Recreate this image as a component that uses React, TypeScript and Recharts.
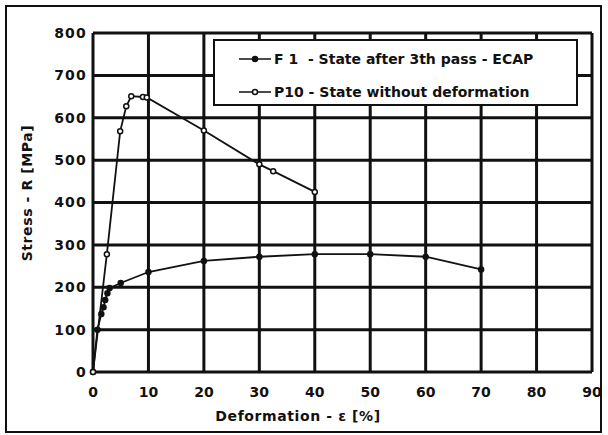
import { Label, Line, LineChart, ReferenceLine, XAxis, YAxis } from "recharts";

// strain [%] and stress [MPa]
const f1Strain = [0, 0.8, 1.5, 1.9, 2.2, 2.6, 3, 5, 10, 20, 30, 40, 50, 60, 70];
const f1Stress = [0, 100, 137, 153, 170, 186, 198, 210, 236, 262, 272, 278, 278, 272, 242];
const p10Strain = [0, 2.5, 4.9, 6, 6.9, 9, 9.7, 20, 30, 32.5, 40];
const p10Stress = [0, 278, 568, 627, 651, 649, 648, 570, 490, 474, 425];
const xTicks = [0, 10, 20, 30, 40, 50, 60, 70, 80, 90];
const yTicks = [0, 100, 200, 300, 400, 500, 600, 700, 800];

const f1Data = f1Strain.map((x, i) => ({ x, y: f1Stress[i] }));
const p10Data = p10Strain.map((x, i) => ({ x, y: p10Stress[i] }));

const font = "'DejaVu Sans', Arial, sans-serif";
const tickStyle = { fill: "#111", fontSize: 13, fontWeight: 700, fontFamily: font };
const titleStyle = { ...tickStyle, fontSize: 14, letterSpacing: 0.6 };

function LegendBox() {
  const rows = [
    { label: "F 1  - State after 3th pass - ECAP", fill: "#111" },
    { label: "P10 - State without deformation", fill: "#fff" },
  ];
  return (
    <div
      style={{
        position: "absolute",
        top: 39,
        left: 213,
        width: 365,
        height: 67,
        border: "2px solid #111",
        background: "#fff",
        boxSizing: "border-box",
        fontFamily: font,
        fontSize: 14,
        fontWeight: 700,
        color: "#111",
        paddingTop: 1,
      }}
    >
      {rows.map((r, i) => (
        <div key={i} style={{ display: "flex", alignItems: "center", height: 33, paddingLeft: 22 }}>
          <svg width={36} height={10}>
            <line x1={2} y1={5} x2={34} y2={5} stroke="#111" strokeWidth={1.5} />
            <circle cx={18} cy={5} r={2.5} fill={r.fill} stroke="#111" strokeWidth={1.5} />
          </svg>
          <span style={{ whiteSpace: "pre", marginLeft: 1 }}>{r.label}</span>
        </div>
      ))}
    </div>
  );
}

export default function App() {
  return (
    <div style={{ position: "absolute", left: 0, top: 0, width: 608, height: 435, background: "#fff" }}>
      <div
        style={{
          position: "absolute",
          left: 5,
          top: 5,
          width: 597,
          height: 428,
          border: "2px solid #111",
          boxSizing: "border-box",
        }}
      />
      <LineChart width={608} height={435} data={f1Data} margin={{ top: 33, right: 16, bottom: 11, left: 5 }}>
        <XAxis
          type="number"
          dataKey="x"
          domain={[0, 90]}
          ticks={xTicks}
          height={52}
          tick={{ ...tickStyle, fontSize: 14 }}
          tickLine={false}
          axisLine={false}
          tickMargin={9}
        >
          <Label
            content={() => (
              <text x={298} y={416} textAnchor="middle" dominantBaseline="central" style={titleStyle}>
                Deformation - ε [%]
              </text>
            )}
          />
        </XAxis>
        <YAxis
          type="number"
          domain={[0, 800]}
          ticks={yTicks}
          width={88}
          tick={{ ...tickStyle, fontSize: 14, letterSpacing: 1.2 }}
          tickLine={false}
          axisLine={false}
          tickMargin={0}
        >
          <Label
            content={() => (
              <text
                x={27}
                y={193}
                transform="rotate(-90 27 193)"
                textAnchor="middle"
                dominantBaseline="central"
                style={titleStyle}
              >
                Stress - R [MPa]
              </text>
            )}
          />
        </YAxis>
        {xTicks.map((t) => (
          <ReferenceLine key={`vx${t}`} x={t} stroke="#111" strokeWidth={3} />
        ))}
        {yTicks.map((t) => (
          <ReferenceLine key={`hy${t}`} y={t} stroke="#111" strokeWidth={3} />
        ))}
        <Line
          data={f1Data}
          dataKey="y"
          type="linear"
          stroke="#111"
          strokeWidth={1.8}
          dot={{ r: 2.5, fill: "#111", stroke: "#111", strokeWidth: 1.5 }}
          isAnimationActive={false}
        />
        <Line
          data={p10Data}
          dataKey="y"
          type="linear"
          stroke="#111"
          strokeWidth={1.8}
          dot={{ r: 2.5, fill: "#fff", stroke: "#111", strokeWidth: 1.5 }}
          isAnimationActive={false}
        />
      </LineChart>
      <LegendBox />
    </div>
  );
}
